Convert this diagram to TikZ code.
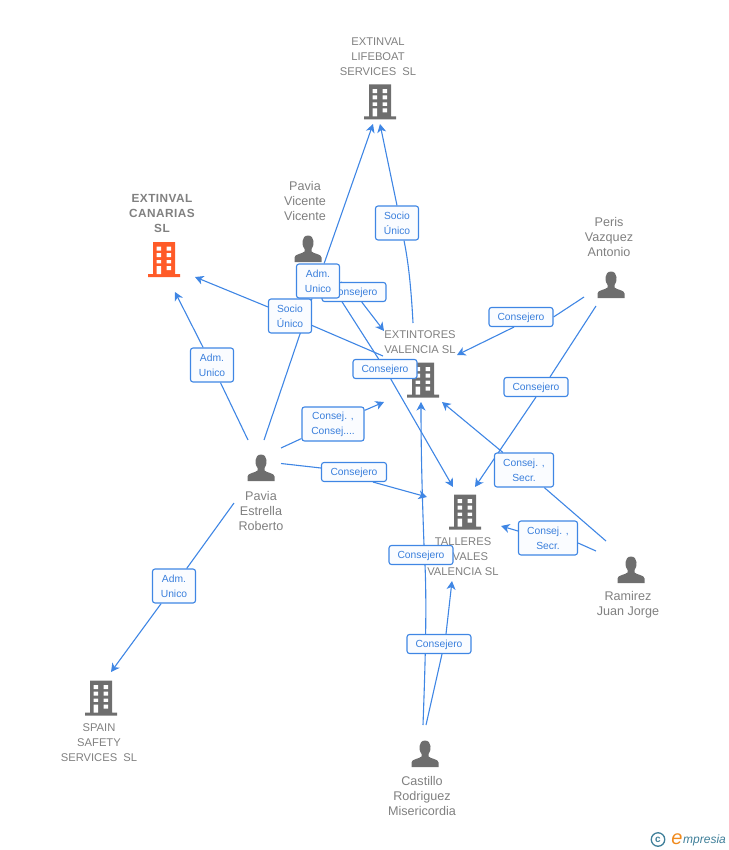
\documentclass[tikz,border=0pt]{standalone}
\usepackage{fontspec}
\setmainfont{Liberation Sans}
\usepackage{tikz}
\usetikzlibrary{arrows.meta,backgrounds}

\definecolor{linkblue}{HTML}{3F86E4}
\definecolor{boxtext}{HTML}{3A7FDC}
\definecolor{boxfill}{HTML}{FAFCFF}
\definecolor{labelgray}{HTML}{808080}
\definecolor{icongray}{HTML}{6E6E6E}
\definecolor{iconorange}{HTML}{FF5B28}
\definecolor{logoteal}{HTML}{3F7F99}
\definecolor{logoorange}{HTML}{F08A1D}

\tikzset{
  link/.style={draw=linkblue, line width=1.1pt, -{Stealth[length=8.5pt,width=9pt,inset=2.5pt]}},
  role/.style={draw=linkblue, line width=1.1pt, rounded corners=2.5pt, fill=boxfill, text=boxtext,
    font=\fontsize{10.3}{15}\selectfont, align=center, inner sep=0pt,
    execute at begin node={\rule{0pt}{10pt}}},
  rolewide/.style={role, minimum width=64pt, minimum height=19pt},
  rolebig/.style={role, minimum width=43pt, minimum height=34pt},
  caption/.style={text=labelgray, font=\fontsize{11.2}{15}\selectfont, align=center, inner sep=0pt},
  namecap/.style={caption, font=\fontsize{12.6}{15}\selectfont},
  bldg/.pic={
    \fill[pic actions] (-11,-17.5) rectangle (11,15) (-16,14.5) rectangle (16,17.5);
    \fill[white] (-7.3,-12.8) rectangle (-3,-8.8) (2.7,-12.8) rectangle (7,-8.8)
      (-7.3,-6.5) rectangle (-3,-2.5) (2.7,-6.5) rectangle (7,-2.5)
      (-7.3,0.5) rectangle (-3,3.8) (2.7,0.5) rectangle (7,3.8)
      (-7.3,6.5) rectangle (-3,14.5) (2.7,6.5) rectangle (7,10.5);
  },
  human/.pic={
    \fill[icongray] (-13.5,13) -- (-13.5,8.5) .. controls (-13.5,5) and (-6,5) .. (-3.5,2.5)
      -- (-3.5,0) .. controls (-6.5,-3) and (-7,-13.5) .. (0,-13.5)
      .. controls (7,-13.5) and (6.5,-3) .. (3.5,0) -- (3.5,2.5)
      .. controls (6,5) and (13.5,5) .. (13.5,8.5) -- (13.5,13) -- cycle;
  }
}

\begin{document}
\begin{tikzpicture}[x=1pt,y=-1pt]
  \useasboundingbox (0,0) rectangle (728,850);

  % captions
  \node[caption] (lifeboat) at (378,56.5) {EXTINVAL\\LIFEBOAT\\SERVICES\ \ SL};
  \node[caption, font=\fontsize{11.8}{15}\selectfont\bfseries\addfontfeature{LetterSpace=4}] (canarias) at (162,213.5) {EXTINVAL\\CANARIAS\\SL};
  \node[caption] (extintores) at (420,342.5) {EXTINTORES\\VALENCIA SL};
  \node[caption] (talleres) at (463,556.5) {TALLERES\\NAVALES\\VALENCIA SL};
  \node[caption] (spain) at (99,742.5) {SPAIN\\SAFETY\\SERVICES\ \ SL};
  \node[namecap] (vicente) at (305,201) {Pavia\\Vicente\\Vicente};
  \node[namecap] (peris) at (609,237) {Peris\\Vazquez\\Antonio};
  \node[namecap] (estrella) at (261,511) {Pavia\\Estrella\\Roberto};
  \node[namecap] (ramirez) at (628,605) {Ramirez\\Juan Jorge};
  \node[namecap] (castillo) at (422,796) {Castillo\\Rodriguez\\Misericordia};

  % role boxes
  \node[rolewide] (conVicExt) at (354,292) {Consejero};
  \node[rolebig] (admLife) at (318,281) {Adm.\\Unico};
  \node[rolebig] (socCan) at (290,316) {Socio\\Único};
  \node[rolebig] (socLife) at (397,223) {Socio\\Único};
  \node[rolebig] (admCan) at (212,365) {Adm.\\Unico};
  \node[rolewide] (conPerExt) at (521,317) {Consejero};
  \node[rolewide] (conVicTal) at (385,369) {Consejero};
  \node[rolewide] (conPerTal) at (536,387) {Consejero};
  \node[role, minimum width=62pt, minimum height=34pt] (cnsPavExt) at (333,424) {Consej. ,\\Consej....};
  \node[rolewide, minimum width=65pt] (conPavTal) at (354,472) {Consejero};
  \node[role, minimum width=59pt, minimum height=34pt] (secRamExt) at (524,470) {Consej. ,\\Secr.};
  \node[role, minimum width=59pt, minimum height=34pt] (secRamTal) at (548,538) {Consej. ,\\Secr.};
  \node[rolewide] (conCasExt) at (421,555) {Consejero};
  \node[rolebig] (admSpain) at (174,586) {Adm.\\Unico};
  \node[rolewide] (conCasTal) at (439,644) {Consejero};

  % free ends
  \coordinate (lifeIn1) at (373,124);
  \coordinate (lifeIn2) at (380,124);
  \coordinate (canIn1) at (175,292);
  \coordinate (canIn2) at (195,277);
  \coordinate (extIn1) at (384,331);
  \coordinate (extIn2) at (457,355);
  \coordinate (extIn3) at (384,402);
  \coordinate (extIn4) at (421,402);
  \coordinate (extIn5) at (442,402);
  \coordinate (extOut1) at (413,323);
  \coordinate (extOut2) at (383,356);
  \coordinate (talIn1) at (427,497);
  \coordinate (talIn2) at (453,487);
  \coordinate (talIn3) at (475,487);
  \coordinate (talIn4) at (501,526);
  \coordinate (talIn5) at (452,581);
  \coordinate (spainIn) at (111,672);
  \coordinate (vicOut1) at (345,285);
  \coordinate (vicOut2) at (330,283);
  \coordinate (perOut1) at (584,297);
  \coordinate (perOut2) at (596,306);
  \coordinate (pavOut1) at (264,440);
  \coordinate (pavOut2) at (248,440);
  \coordinate (pavOut3) at (281,448);
  \coordinate (pavOut4) at (281,463.5);
  \coordinate (pavOut5) at (234,503);
  \coordinate (ramOut1) at (606,541);
  \coordinate (ramOut2) at (596,551);
  \coordinate (casOut1) at (423,725);
  \coordinate (casOut2) at (426,725);

  \begin{pgfonlayer}{background}
    % icons
    \pic[fill=icongray] at (380,102) {bldg};
    \pic[fill=iconorange] at (164,259.5) {bldg};
    \pic[fill=icongray] at (423,380) {bldg};
    \pic[fill=icongray] at (465,512) {bldg};
    \pic[fill=icongray] at (101,698) {bldg};
    \pic at (308,249) {human};
    \pic at (611,285) {human};
    \pic at (261,468) {human};
    \pic at (631,570) {human};
    \pic at (425,754) {human};

    % connectors
    \draw[link] (pavOut1) -- (admLife) -- (lifeIn1);
    \draw[link] (extOut1) .. controls (411,285) and (408,260) .. ([xshift=7pt]socLife.south) (socLife.north) -- (lifeIn2);
    \draw[link] (pavOut2) -- (admCan) -- (canIn1);
    \draw[link] (extOut2) -- (socCan) -- (canIn2);
    \draw[link] (vicOut1) -- (conVicExt) -- (extIn1);
    \draw[link] (vicOut2) -- (conVicTal) -- (talIn2);
    \draw[link] (perOut1) -- (conPerExt.east) ([xshift=-7pt]conPerExt.south) -- (extIn2);
    \draw[link] (perOut2) -- ([xshift=14pt]conPerTal.north) (conPerTal.south) -- (talIn3);
    \draw[link] (ramOut1) -- (secRamExt) -- (extIn5);
    \draw[link] (ramOut2) -- ([yshift=-5pt]secRamTal.east) ([yshift=7pt]secRamTal.west) -- (talIn4);
    \draw[link] (pavOut3) -- (cnsPavExt) -- (extIn3);
    \draw[link] (pavOut4) -- ([yshift=4pt]conPavTal.west) ([xshift=19pt]conPavTal.south) -- (talIn1);
    \draw[link] (pavOut5) -- (admSpain) -- (spainIn);
    \draw[link] (casOut1) .. controls (425,670) and (427,610) .. ([xshift=4pt]conCasExt.south)
      ([xshift=3pt]conCasExt.north) .. controls (422,490) and (421,450) .. (extIn4);
    \draw[link] (casOut2) -- ([xshift=3pt]conCasTal.south) ([xshift=7pt]conCasTal.north) -- (talIn5);
  \end{pgfonlayer}

  % logo
  \node[circle, draw=logoteal, line width=1.3pt, text=logoteal, inner sep=0pt, minimum size=13.5pt,
    font=\fontsize{10}{10}\selectfont\bfseries] (logoC) at (658,839.5) {c};
  \node[text=logoorange, inner sep=0pt, font=\fontsize{20}{20}\selectfont\itshape] (logoE) at (677,839) {e};
  \node[text=logoteal, inner sep=0pt, anchor=west, font=\fontsize{12}{12}\selectfont\itshape] (logoT) at (683,840) {mpresia};
\end{tikzpicture}
\end{document}
